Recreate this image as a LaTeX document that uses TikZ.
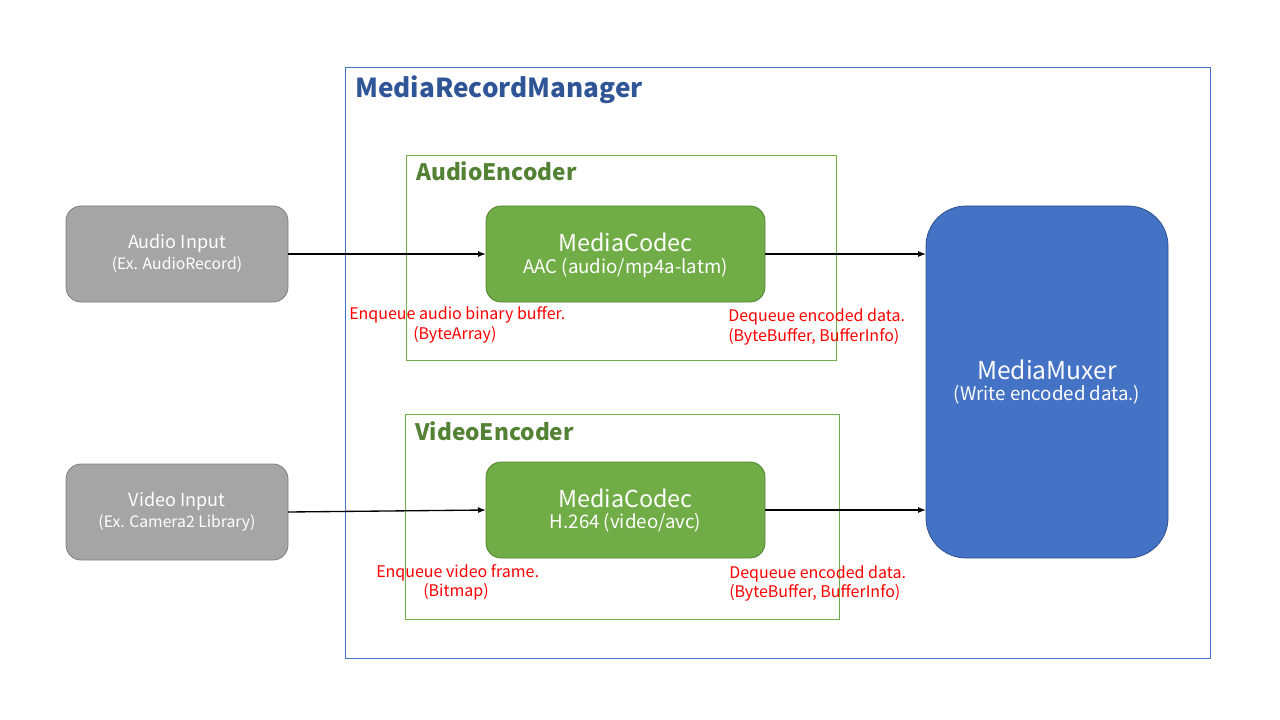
\documentclass[tikz,border=0pt]{standalone}
\usepackage{fontspec}
\setmainfont{Noto Sans CJK JP}
\usetikzlibrary{arrows.meta}
\definecolor{mblue}{HTML}{4472C4}
\definecolor{mbluedark}{HTML}{2F528F}
\definecolor{titleblue}{HTML}{2F5597}
\definecolor{mgreen}{HTML}{70AD47}
\definecolor{mgreendark}{HTML}{548235}
\definecolor{mgray}{HTML}{A5A5A5}
\definecolor{mgraydark}{HTML}{7F7F7F}
\definecolor{mred}{HTML}{FF0000}
\tikzset{
  frame/.style={draw=#1, line width=0.75pt},
  codec/.style={draw=mgreendark, fill=mgreen, rounded corners=11.25pt, line width=0.6pt},
  inbox/.style={draw=mgraydark, fill=mgray, rounded corners=11.25pt, line width=0.6pt},
  ttl/.style={anchor=base west, inner sep=0pt, font=\fontsize{#1}{#1}\selectfont\bfseries},
  big/.style={text=white, inner sep=0pt, font=\fontsize{17.5pt}{19pt}\selectfont},
  sub/.style={text=white, inner sep=0pt},
  note/.style={text=mred, anchor=base west, inner sep=0pt, font=\fontsize{12pt}{13pt}\selectfont},
  arr/.style={-{Latex[length=6pt,width=4.5pt]}, line width=1pt, black},
}
\begin{document}
\begin{tikzpicture}[x=0.75pt,y=-0.75pt]
\useasboundingbox (0,0) rectangle (1280,720);
% outer frame
\draw[frame=mblue] (345,68) rectangle (1210,658);
\node[ttl=19.6pt, text=titleblue] (t1) at (355,98) {MediaRecordManager};
% encoder frames
\draw[frame=mgreen] (406,156) rectangle (836,360);
\node[ttl=17pt, text=mgreendark] (t2) at (416,181) {AudioEncoder};
\draw[frame=mgreen] (405,414) rectangle (839,619);
\node[ttl=17pt, text=mgreendark] (t3) at (415,440) {VideoEncoder};
% codecs
\draw[codec] (486,206) rectangle (765,302);
\node[big] (acn) at (625.5,242) {MediaCodec};
\node[sub, font=\fontsize{14pt}{15pt}\selectfont] (acs) at (625.5,268) {AAC (audio/mp4a-latm)};
\draw[codec] (486,462) rectangle (765,558);
\node[big] (vcn) at (625.5,498) {MediaCodec};
\node[sub, font=\fontsize{14pt}{15pt}\selectfont] (vcs) at (625.5,523) {H.264 (video/avc)};
% inputs
\draw[inbox] (66,206) rectangle (288,302);
\node[sub, font=\fontsize{13.5pt}{14pt}\selectfont] (ain) at (177,243) {Audio Input};
\node[sub, font=\fontsize{11.8pt}{12pt}\selectfont] (ais) at (177,265) {(Ex. AudioRecord)};
\draw[inbox] (66,464) rectangle (288,560);
\node[sub, font=\fontsize{13.5pt}{14pt}\selectfont] (vin) at (177,501) {Video Input};
\node[sub, font=\fontsize{11.8pt}{12pt}\selectfont] (vis) at (177,523) {(Ex. Camera2 Library)};
% muxer
\draw[draw=mbluedark, fill=mblue, rounded corners=30pt, line width=0.6pt] (926,206) rectangle (1168,558);
\node[big, font=\fontsize{18.5pt}{20pt}\selectfont] (mx) at (1047,370) {MediaMuxer};
\node[sub, font=\fontsize{14pt}{15pt}\selectfont] (mxs) at (1047,395) {(Write encoded data.)};
% connector coordinates
\coordinate (a1) at (288,254); \coordinate (a2) at (486,254);
\coordinate (a3) at (765,254); \coordinate (a4) at (926,254);
\coordinate (v1) at (288,512); \coordinate (v2) at (486,510);
\coordinate (v3) at (765,510); \coordinate (v4) at (926,510);
\draw[arr] (a1) -- (a2);
\draw[arr] (a3) -- (a4);
\draw[arr] (v1) -- (v2);
\draw[arr] (v3) -- (v4);
% notes
\node[note] (n1) at (349,319) {Enqueue audio binary buffer.};
\node[note] (n2) at (413,339) {(ByteArray)};
\node[note] (n3) at (728,321) {Dequeue encoded data.};
\node[note] (n4) at (728,341) {(ByteBuffer, BufferInfo)};
\node[note] (n5) at (376,577) {Enqueue video frame.};
\node[note] (n6) at (423,596) {(Bitmap)};
\node[note] (n7) at (729,578) {Dequeue encoded data.};
\node[note] (n8) at (729,597) {(ByteBuffer, BufferInfo)};
\end{tikzpicture}
\end{document}
